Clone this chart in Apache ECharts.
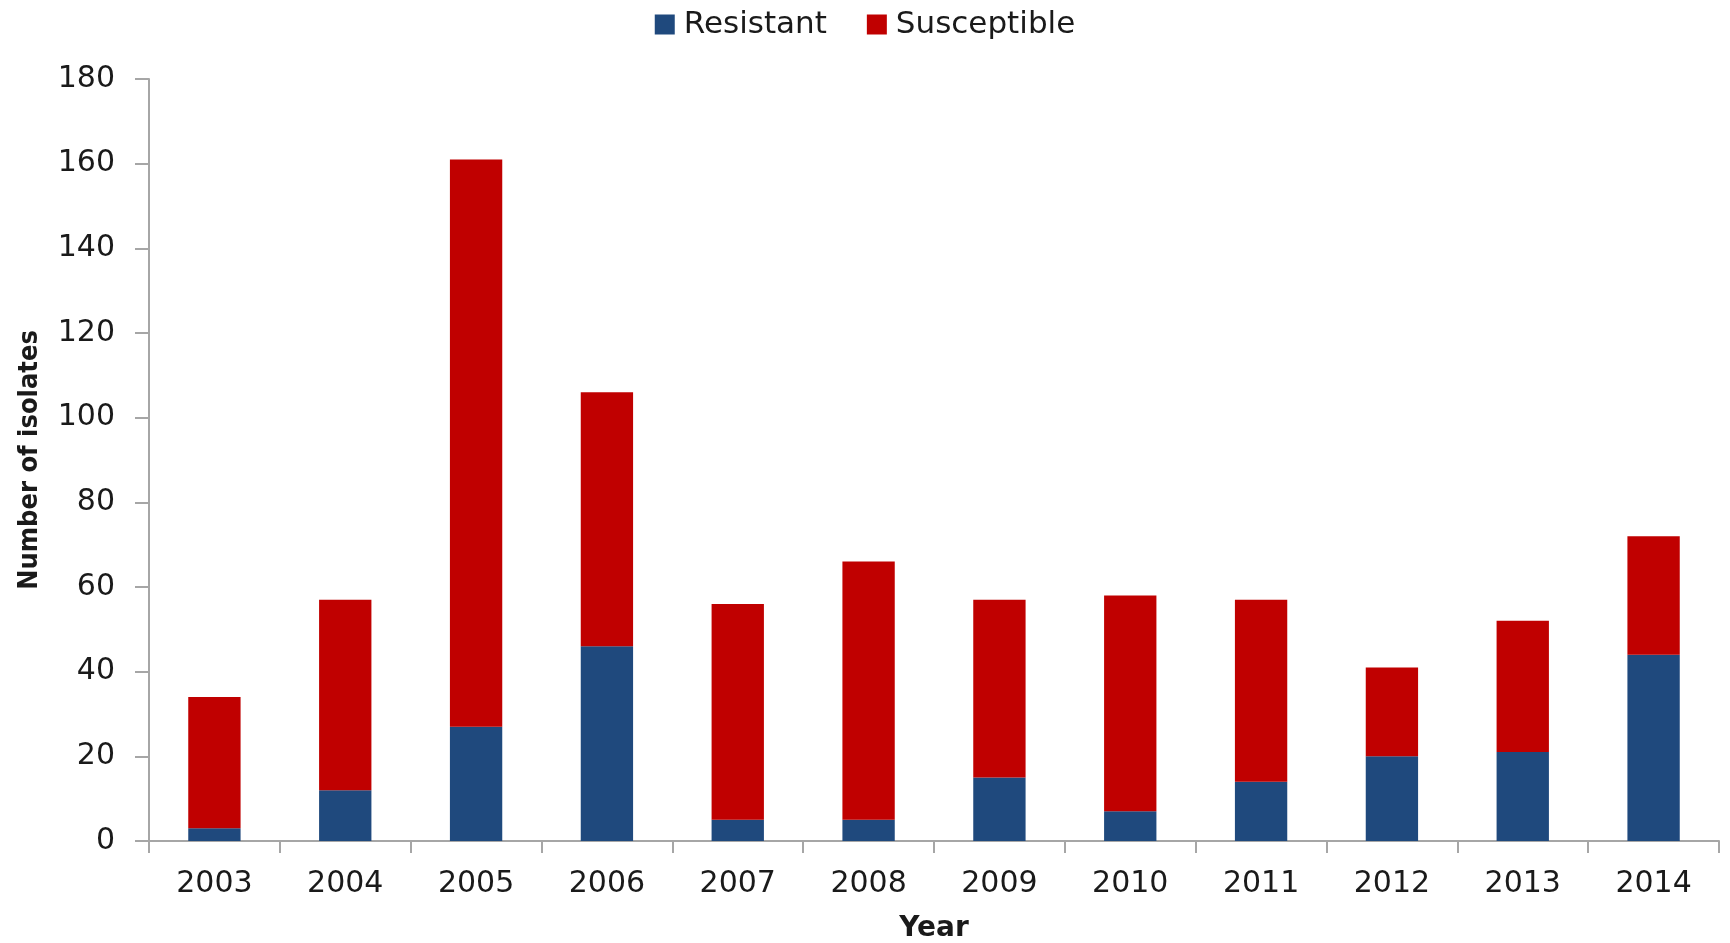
<!DOCTYPE html>
<html>
<head>
<meta charset="utf-8">
<script src="https://cdn.jsdelivr.net/npm/echarts@6/dist/echarts.min.js"></script>
<style>
  html, body { margin: 0; padding: 0; background: #fff; }
  #chart { width: 1730px; height: 943px; }
</style>
</head>
<body>
<div id="chart"></div>
<script>
// years on the x axis
var years = ['2003', '2004', '2005', '2006', '2007', '2008', '2009', '2010', '2011', '2012', '2013', '2014'];
// isolates per year, stacked
var resistant = [3, 12, 27, 46, 5, 5, 15, 7, 14, 20, 21, 44];
var susceptible = [31, 45, 134, 60, 51, 61, 42, 51, 43, 21, 31, 28];
var yTicks = [0, 180, 20];

var myChart = echarts.init(document.getElementById('chart'));
var axisGray = '#a6a6a6';

var option = {
    animation: false,
    legend: {
        top: 4,
        left: 'center',
        itemWidth: 20,
        itemHeight: 20,
        itemGap: 40,
        icon: 'rect',
        textStyle: { fontFamily: 'DejaVu Sans', fontSize: 31, color: '#1a1a1a', padding: [0, 0, 0, 4] },
        data: ['Resistant', 'Susceptible']
    },
    grid: { left: 149, right: 11, top: 79, bottom: 102, outerBoundsMode: 'none', containLabel: false },
    xAxis: {
        type: 'category',
        data: years,
        name: 'Year',
        nameLocation: 'middle',
        nameGap: 74,
        nameTextStyle: { fontFamily: 'DejaVu Sans', fontWeight: 'bold', fontSize: 28, color: '#1a1a1a' },
        axisLine: { lineStyle: { color: axisGray, width: 2 } },
        axisTick: { show: true, length: 12, lineStyle: { color: axisGray, width: 2 } },
        axisLabel: { fontFamily: 'DejaVu Sans', fontSize: 30, color: '#1a1a1a', margin: 28 }
    },
    yAxis: {
        type: 'value',
        min: yTicks[0],
        max: yTicks[1],
        interval: yTicks[2],
        name: 'Number of isolates',
        nameLocation: 'middle',
        nameGap: 106,
        nameTextStyle: { fontFamily: 'DejaVu Sans Condensed', fontWeight: 'bold', fontSize: 27, color: '#1a1a1a' },
        splitLine: { show: false },
        axisLine: { show: true, lineStyle: { color: axisGray, width: 2 } },
        axisTick: { show: true, length: 14, lineStyle: { color: axisGray, width: 2 } },
        axisLabel: { fontFamily: 'DejaVu Sans', fontSize: 30, color: '#1a1a1a', margin: 34 }
    },
    series: [
        {
            name: 'Resistant',
            type: 'bar',
            stack: 'total',
            barWidth: '40%',
            itemStyle: { color: '#1f497d' },
            data: resistant
        },
        {
            name: 'Susceptible',
            type: 'bar',
            stack: 'total',
            barWidth: '40%',
            itemStyle: { color: '#c00000' },
            data: susceptible
        }
    ]
};

myChart.setOption(option);
</script>
</body>
</html>
